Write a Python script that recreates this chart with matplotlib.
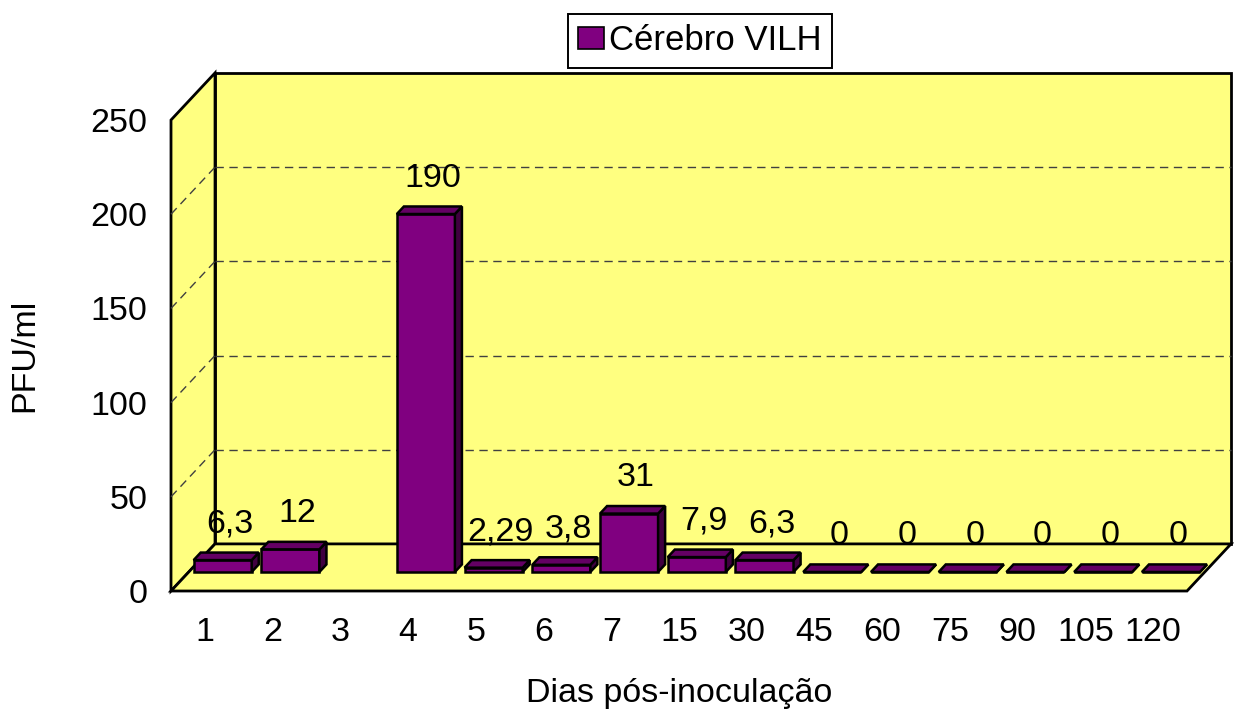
import matplotlib
matplotlib.use("Agg")
import matplotlib.pyplot as plt
from matplotlib.patches import Polygon, Patch

plt.rcParams['font.family'] = ['Liberation Sans', 'DejaVu Sans']

# data
dias = ["1", "2", "3", "4", "5", "6", "7", "15", "30", "45", "60", "75", "90", "105", "120"]
pfu = [6.3, 12, None, 190, 2.29, 3.8, 31, 7.9, 6.3, 0, 0, 0, 0, 0, 0]
serie = "Cérebro VILH"
yticks = [0, 50, 100, 150, 200, 250]

# 3d look
DX = 0.65   # depth offset in slots
DY = 25.0   # depth offset in value units
D0, D1 = 0.404, 0.564   # bar front / back depth
BW = 0.857
WALL = "#ffff80"
FRONT, TOP, SIDE = "#800080", "#640064", "#400040"
YMAX = 250
N = len(dias)
FS = 24.5

fig = plt.figure(figsize=(12.34, 7.13), dpi=100)
ax = fig.add_axes([171/1234, 122/713, 1016/1234, 471/713])
ax.set_xlim(0, N)
ax.set_ylim(0, YMAX)
for s in ax.spines.values():
    s.set_visible(False)
ax.patch.set_visible(False)

def poly(pts, fc, lw=2.0, z=1):
    ax.add_patch(Polygon(pts, closed=True, facecolor=fc, edgecolor="black",
                         lw=lw, joinstyle="miter", clip_on=False, zorder=z))

# walls + floor
poly([(DX, DY), (N + DX, DY), (N + DX, YMAX + DY), (DX, YMAX + DY)], WALL, z=1)
poly([(0, 0), (DX, DY), (DX, YMAX + DY), (0, YMAX)], WALL, z=1)
poly([(0, 0), (N, 0), (N + DX, DY), (DX, DY)], WALL, z=2)

# gridlines
for t in yticks[1:-1]:
    ax.plot([DX, N + DX], [t + DY, t + DY], color="#404040", lw=1.0,
            ls=(0, (6, 4)), clip_on=False, zorder=1.5)
    ax.plot([0, DX], [t, t + DY], color="#404040", lw=1.0,
            ls=(0, (6, 4)), clip_on=False, zorder=1.5)

# bars
for i, v in enumerate(pfu):
    if v is None:
        continue
    xl = i + 0.5 - BW / 2
    xr = i + 0.5 + BW / 2
    yb0, yb1 = D0 * DY, D1 * DY
    a0, a1 = D0 * DX, D1 * DX
    poly([(xl + a0, yb0), (xr + a0, yb0), (xr + a0, yb0 + v), (xl + a0, yb0 + v)], FRONT, lw=1.8, z=3)
    poly([(xr + a0, yb0), (xr + a1, yb1), (xr + a1, yb1 + v), (xr + a0, yb0 + v)], SIDE, lw=1.8, z=3)
    poly([(xl + a0, yb0 + v), (xr + a0, yb0 + v), (xr + a1, yb1 + v), (xl + a1, yb1 + v)], TOP, lw=1.8, z=3)
    lab = f"{v:g}".replace(".", ",")
    ax.annotate(lab, (i + 0.5 + a0, yb0 + v), xytext=(7, 36),
                textcoords="offset pixels", ha="center", va="center",
                fontsize=FS, zorder=5, annotation_clip=False)

ax.set_xticks([i + 0.5 for i in range(N)])
ax.set_xticklabels(dias)
ax.set_yticks(yticks)
ax.tick_params(axis="both", length=0, labelsize=FS)
ax.tick_params(axis="x", pad=19)
ax.tick_params(axis="y", pad=17)
ax.set_xlabel("Dias pós-inoculação", fontsize=FS, labelpad=21)
ax.set_ylabel("PFU/ml", fontsize=FS, labelpad=36)

leg = ax.legend(handles=[Patch(facecolor=FRONT, edgecolor="black", lw=1.2)],
                labels=[serie], loc="upper center",
                bbox_to_anchor=(700/1234, 1 - 14/713), bbox_transform=fig.transFigure,
                fontsize=FS + 0.5, fancybox=False, framealpha=1, edgecolor="black",
                handlelength=0.75, handleheight=0.6, handletextpad=0.15,
                borderpad=0.3, borderaxespad=0)
leg.get_frame().set_linewidth(1.4)

fig.savefig("out.png", dpi=100)
